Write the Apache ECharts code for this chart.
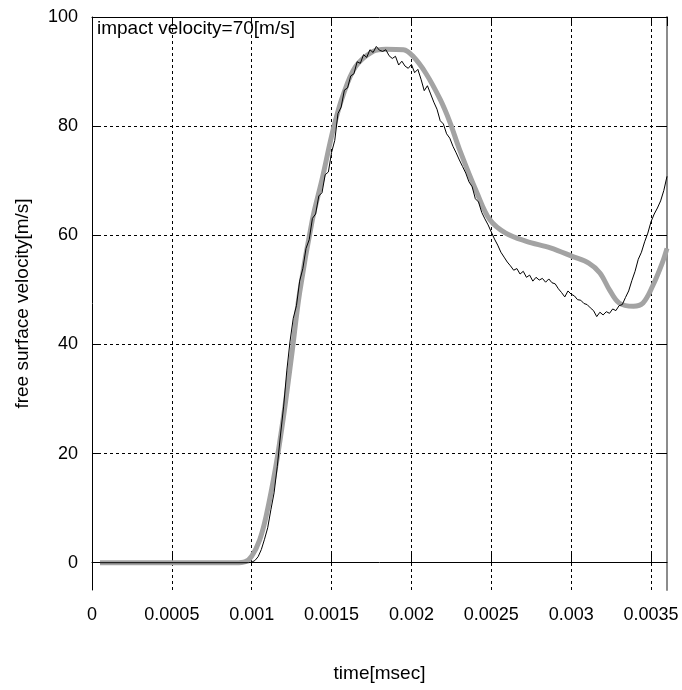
<!DOCTYPE html>
<html>
<head>
<meta charset="utf-8">
<script src="https://cdn.jsdelivr.net/npm/echarts@6/dist/echarts.min.js"></script>
<style>
  html, body { margin: 0; padding: 0; background: #fff; }
  #main { width: 682px; height: 690px; }
</style>
</head>
<body>
<div id="main"></div>
<script>
// x tick values (msec) and y tick values (m/s)
var xTicks = [0, 0.0005, 0.001, 0.0015, 0.002, 0.0025, 0.003, 0.0035];
var yTicks = [0, 20, 40, 60, 80, 100];

// simulation (grey, smooth)
var simTime = [0.00005, 0.0009, 0.00096, 0.001, 0.00105, 0.00109, 0.00115, 0.0012, 0.00125, 0.0013,
  0.00138, 0.00144, 0.00151, 0.00157, 0.00165, 0.00176, 0.00184, 0.00195, 0.00201, 0.00209,
  0.00218, 0.00224, 0.0023, 0.00241, 0.00249, 0.00259, 0.00272, 0.00287, 0.00301, 0.00311,
  0.00318, 0.00324, 0.0033, 0.00339, 0.00345, 0.00351, 0.00357, 0.0036];
var simVel = [0, 0, 0.2, 1.2, 4.2, 8.5, 17.5, 27, 38, 49.5,
  62.9, 70.2, 79.4, 85.5, 90.9, 93.7, 94.1, 94.0, 92.8, 89.7,
  84.9, 80.8, 75.8, 67.8, 62.9, 60.4, 58.9, 57.7, 56.1, 54.9,
  53.1, 50.0, 47.6, 47.0, 47.6, 50.7, 54.9, 57.6];

// experiment (black, noisy), sampled every 0.00002 from 0.00098
var expStart = 0.00098;
var expStep = 0.00002;
var expVel = [
  0, 0.1, 0.4, 1.1, 2.4, 4.3, 6.4, 9.7, 12.8, 17.6,
  23.4, 28.7, 35.3, 40.6, 44.8, 47.1, 51.6, 53.9, 57.6, 59.2,
  63.1, 63.9, 67.2, 67.8, 71.1, 71.6, 75.2, 77.4, 82.3, 83.5,
  86.6, 87.0, 89.2, 89.6, 91.8, 91.5, 93.1, 92.6, 94.0, 93.5,
  94.6, 93.9, 93.7, 94.0, 92.9, 92.4, 92.8, 91.2, 91.9, 91.0,
  90.6, 91.3, 89.8, 90.4, 88.6, 86.5, 87.4, 85.9, 84.4, 83.1,
  81.0, 80.4, 78.6, 77.8, 76.3, 75.1, 73.8, 72.6, 71.4, 69.8,
  68.9, 66.7, 66.1, 64.2, 63.0, 61.9, 60.6, 59.3, 58.2, 56.9,
  56.0, 55.1, 54.4, 53.6, 53.9, 52.9, 53.4, 52.3, 52.7, 51.6,
  52.3, 51.8, 52.1, 51.4, 52.0, 51.3, 51.1, 50.2, 49.5, 48.7,
  49.8, 49.2, 48.9, 48.2, 48.1, 47.5, 47.3, 46.7, 46.2, 45.1,
  45.9, 45.4, 46.0, 45.7, 46.5, 46.2, 47.1, 47.3, 48.6, 49.8,
  51.7, 53.4, 55.6, 56.9, 58.8, 60.4, 62.5, 63.9, 65.0, 66.3,
  68.2, 70.8
];

var simData = simTime.map(function (t, i) { return [t, simVel[i]]; });
var expData = [[0.00005, 0]];
expVel.forEach(function (v, i) {
  expData.push([+(expStart + i * expStep).toFixed(6), v]);
});

var font = 'Liberation Sans, Arial, sans-serif';
var dash = { color: '#000', width: 1, type: [3, 3] };

var myChart = echarts.init(document.getElementById('main'));
var option = {
  animation: false,
  backgroundColor: '#fff',
  grid: { left: 92, top: 17, right: 15, bottom: 100, containLabel: false },
  graphic: [{
    type: 'text',
    left: 97,
    top: 19,
    style: { text: 'impact velocity=70[m/s]', font: '19px ' + font, fill: '#000' },
    z: 100
  }],
  xAxis: [{
    type: 'value',
    min: 0,
    max: 0.0036,
    interval: 0.0005,
    name: 'time[msec]',
    nameLocation: 'middle',
    nameGap: 74,
    nameTextStyle: { fontFamily: font, fontSize: 19, color: '#000' },
    axisLine: { show: true, lineStyle: { color: '#000', width: 1 } },
    axisTick: { show: true, inside: true, length: 9, lineStyle: { color: '#000' } },
    axisLabel: {
      showMaxLabel: false, margin: 16, fontFamily: font, fontSize: 18, color: '#000',
      formatter: function (v) { return String(parseFloat(v.toFixed(4))); }
    },
    splitLine: { show: true, lineStyle: dash }
  }, {
    type: 'value',
    position: 'top',
    min: 0,
    max: 0.0036,
    interval: 0.0005,
    axisLine: { show: true, onZero: false, lineStyle: { color: '#000', width: 1 } },
    axisTick: { show: true, inside: true, length: 9, lineStyle: { color: '#000' } },
    axisLabel: { show: false },
    splitLine: { show: false }
  }],
  yAxis: [{
    type: 'value',
    min: -5,
    max: 100,
    name: 'free surface velocity[m/s]',
    nameLocation: 'middle',
    nameGap: 60,
    nameTextStyle: { fontFamily: font, fontSize: 19, color: '#000' },
    axisLine: { show: true, onZero: false, lineStyle: { color: '#000', width: 1 } },
    axisTick: { show: true, inside: true, length: 8, customValues: yTicks, lineStyle: { color: '#000' } },
    axisLabel: { margin: 14, fontFamily: font, fontSize: 18, color: '#000', customValues: yTicks },
    splitLine: { show: true, lineStyle: dash }
  }, {
    type: 'value',
    position: 'right',
    min: -5,
    max: 100,
    axisLine: { show: true, onZero: false, lineStyle: { color: '#8c8c8c', width: 2 } },
    axisTick: { show: true, inside: true, length: 8, customValues: yTicks, lineStyle: { color: '#000' } },
    axisLabel: { show: false },
    splitLine: { show: false }
  }],
  series: [{
    name: 'simulation',
    type: 'line',
    data: simData,
    smooth: 0.35,
    showSymbol: false,
    lineStyle: { color: '#a3a3a3', width: 5 },
    z: 2
  }, {
    name: 'experiment',
    type: 'line',
    data: expData,
    showSymbol: false,
    lineStyle: { color: '#000', width: 1 },
    z: 3
  }]
};
myChart.setOption(option);
</script>
</body>
</html>
